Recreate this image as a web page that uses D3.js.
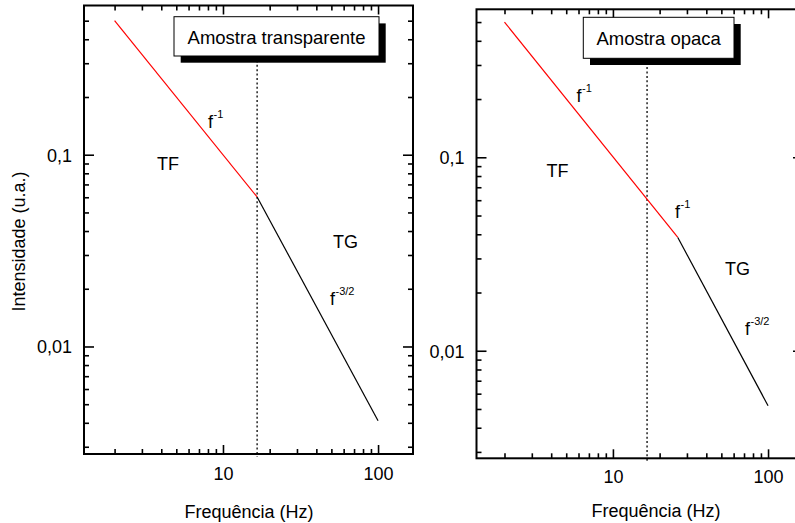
<!DOCTYPE html>
<html lang="pt">
<head>
    <meta charset="UTF-8">
    <title>Intensidade vs Frequência</title>
    <script src="https://cdnjs.cloudflare.com/ajax/libs/d3/7.8.5/d3.min.js"></script>
    <style>
        body { margin: 0; background: #fff; }
        svg { display: block; font-family: "Liberation Sans", Arial, sans-serif; }
        .tick line { stroke: #000; stroke-width: 1.6px; }
        .tick text { font-size: 18px; fill: #000; }
        .domain { display: none; }
        .lbl { font-size: 18px; fill: #000; }
        .title { font-size: 18.5px; fill: #000; }
    </style>
</head>
<body>
    <div id="chart"></div>
    <script>
        // tick values
        const xMajor = [10, 100];
        const xTickLabels = ["10", "100"];
        const xMinor = [2, 3, 4, 5, 6, 7, 8, 9, 20, 30, 40, 50, 60, 70, 80, 90];
        const yMajor = [0.01, 0.1];
        const yTickLabels = ["0,01", "0,1"];
        const yMinor = [0.003, 0.004, 0.005, 0.006, 0.007, 0.008, 0.009,
                        0.02, 0.03, 0.04, 0.05, 0.06, 0.07, 0.08, 0.09,
                        0.2, 0.3, 0.4, 0.5];

        // transparent sample: f^-1 (red) then f^-3/2 (black)
        const leftRedF = [2, 16.6];
        const leftRedI = [0.5, 0.0602];
        const leftBlackF = [16.6, 100];
        const leftBlackI = [0.0602, 0.0041];

        // opaque sample
        const rightRedF = [2, 26.2];
        const rightRedI = [0.5, 0.0385];
        const rightBlackF = [26.2, 100];
        const rightBlackI = [0.0385, 0.0052];

        const crossoverF = 16.6;

        const W = 795, H = 523;
        const svg = d3.select("#chart").append("svg")
            .attr("width", W).attr("height", H);

        const panels = [
            {
                x0: 84, x1: 413, y0: 5.5, y1: 454,
                xDomain: [1.27, 168], yDomain: [0.00275, 0.6],
                red: [leftRedF, leftRedI], black: [leftBlackF, leftBlackI],
                title: "Amostra transparente",
                box: { x: 174, y: 16.7, w: 205, h: 39.3 },
                labels: [
                    { t: "f", sup: "-1", x: 208, y: 128 },
                    { t: "TF", x: 157, y: 170 },
                    { t: "TG", x: 333, y: 248 },
                    { t: "f", sup: "-3/2", x: 330, y: 305 }
                ],
                xLabelX: 249, xLabelY: 518, tickLabelY: 480, yLabel: true
            },
            {
                x0: 476.5, x1: 803, y0: 9.3, y1: 458.3,
                xDomain: [1.32, 168], yDomain: [0.00278, 0.582],
                red: [rightRedF, rightRedI], black: [rightBlackF, rightBlackI],
                title: "Amostra opaca",
                box: { x: 583.3, y: 17.3, w: 150.7, h: 41 },
                labels: [
                    { t: "f", sup: "-1", x: 576.5, y: 101.5 },
                    { t: "f", sup: "-1", x: 675, y: 218 },
                    { t: "TF", x: 546.5, y: 176.5 },
                    { t: "TG", x: 725, y: 275 },
                    { t: "f", sup: "-3/2", x: 745, y: 335 }
                ],
                xLabelX: 656, xLabelY: 517, tickLabelY: 483, yLabel: false
            }
        ];

        panels.forEach(p => {
            const x = d3.scaleLog().domain(p.xDomain).range([p.x0, p.x1]);
            const y = d3.scaleLog().domain(p.yDomain).range([p.y1, p.y0]);
            const g = svg.append("g");

            // bottom axis, labels on majors only
            g.append("g").attr("transform", `translate(0,${p.y1})`)
                .call(d3.axisBottom(x).tickValues(xMajor).tickSize(-9).tickPadding(0)
                    .tickFormat((d, i) => xTickLabels[i]))
                .selectAll("text").attr("dy", null)
                .attr("y", p.tickLabelY - p.y1);
            g.append("g").attr("transform", `translate(0,${p.y1})`)
                .call(d3.axisBottom(x).tickValues(xMinor).tickSize(-5).tickFormat(""));
            // top
            g.append("g").attr("transform", `translate(0,${p.y0})`)
                .call(d3.axisTop(x).tickValues(xMajor).tickSize(-9).tickFormat(""));
            g.append("g").attr("transform", `translate(0,${p.y0})`)
                .call(d3.axisTop(x).tickValues(xMinor).tickSize(-5).tickFormat(""));
            // left
            g.append("g").attr("transform", `translate(${p.x0},0)`)
                .call(d3.axisLeft(y).tickValues(yMajor).tickSize(-10).tickPadding(12)
                    .tickFormat((d, i) => yTickLabels[i]))
                .selectAll("text").attr("dy", "0.36em");
            g.append("g").attr("transform", `translate(${p.x0},0)`)
                .call(d3.axisLeft(y).tickValues(yMinor).tickSize(-5).tickFormat(""));
            // right
            g.append("g").attr("transform", `translate(${p.x1},0)`)
                .call(d3.axisRight(y).tickValues(yMajor).tickSize(-10).tickFormat(""));
            g.append("g").attr("transform", `translate(${p.x1},0)`)
                .call(d3.axisRight(y).tickValues(yMinor).tickSize(-5).tickFormat(""));

            // frame
            g.append("rect")
                .attr("x", p.x0).attr("y", p.y0)
                .attr("width", p.x1 - p.x0).attr("height", p.y1 - p.y0)
                .attr("fill", "none").attr("stroke", "#000").attr("stroke-width", 2);

            // crossover frequency, dotted
            g.append("line")
                .attr("x1", x(crossoverF)).attr("x2", x(crossoverF))
                .attr("y1", p.box.y + p.box.h).attr("y2", p.y1 + 3)
                .attr("stroke", "#000").attr("stroke-width", 1.3)
                .attr("stroke-dasharray", "2,2.4");

            const line = d3.line().x(d => x(d[0])).y(d => y(d[1]));
            const seg = s => s[0].map((f, i) => [f, s[1][i]]);
            g.append("path").attr("d", line(seg(p.red)))
                .attr("fill", "none").attr("stroke", "#ff0000").attr("stroke-width", 1.2);
            g.append("path").attr("d", line(seg(p.black)))
                .attr("fill", "none").attr("stroke", "#000").attr("stroke-width", 1.2);

            // title box + shadow
            g.append("rect")
                .attr("x", p.box.x + 6.7).attr("y", p.box.y + 6.7)
                .attr("width", p.box.w).attr("height", p.box.h).attr("fill", "#000");
            g.append("rect")
                .attr("x", p.box.x).attr("y", p.box.y)
                .attr("width", p.box.w).attr("height", p.box.h)
                .attr("fill", "#fff").attr("stroke", "#000").attr("stroke-width", 1);
            g.append("text").attr("class", "title")
                .attr("x", p.box.x + p.box.w / 2).attr("y", p.box.y + 27.5)
                .attr("text-anchor", "middle").text(p.title);

            // annotations
            p.labels.forEach(l => {
                const t = g.append("text").attr("class", "lbl")
                    .attr("x", l.x).attr("y", l.y).text(l.t);
                if (l.sup) {
                    t.append("tspan").attr("dy", -10).attr("dx", 0.5)
                        .style("font-size", "11px").text(l.sup);
                }
            });

            // axis titles
            g.append("text").attr("class", "lbl")
                .attr("x", p.xLabelX).attr("y", p.xLabelY)
                .attr("text-anchor", "middle")
                .text("Frequência (Hz)");
            if (p.yLabel) {
                g.append("text").attr("class", "lbl")
                    .attr("transform", "translate(25,241.5) rotate(-90)")
                    .attr("text-anchor", "middle")
                    .text("Intensidade (u.a.)");
            }
        });
    </script>
</body>
</html>
